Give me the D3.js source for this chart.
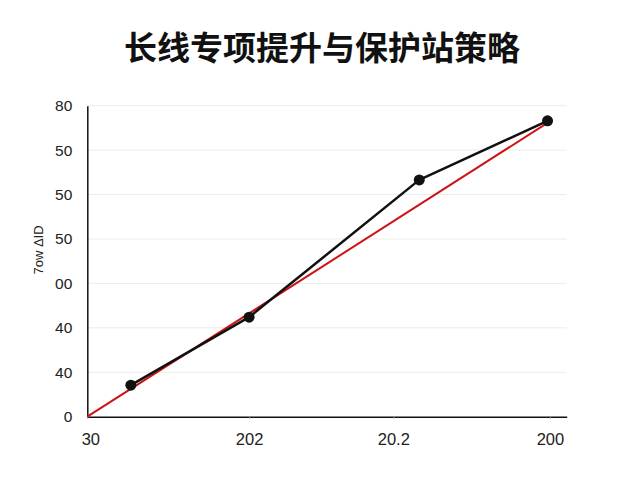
<!DOCTYPE html>
<html>
<head>
<meta charset="utf-8">
<script src="https://cdn.jsdelivr.net/npm/d3@7"></script>
<style>
  body { margin: 0; background: #fff; }
  svg { display: block; }
</style>
</head>
<body>
<script>
// Values
var xValues = [1.09, 4.05, 8.31, 11.52];
var yValues = [7.1, 22.4, 53.3, 66.6];
var trendX = [0, 11.46];
var trendY = [0, 65.8];
var xTicks = [0, 4.05, 7.66, 11.58];
var xTickLabels = ['30', '202', '20.2', '200'];
var yTicks = [0, 10, 20, 30, 40, 50, 60, 70];
var yTickLabels = ['0', '40', '40', '00', '50', '50', '50', '80'];

var width = 640, height = 480;
var margin = { top: 105.7, right: 73.3, bottom: 63.3, left: 87.3 };

var svg = d3.select('body').append('svg')
    .attr('width', width)
    .attr('height', height);

var x = d3.scaleLinear().domain([0, 12])
    .range([margin.left, width - margin.right]);
var y = d3.scaleLinear().domain([0, 70])
    .range([height - margin.bottom, margin.top]);

// Title
svg.append('text')
    .attr('x', 322)
    .attr('y', 60)
    .attr('text-anchor', 'middle')
    .attr('font-family', 'Noto Sans CJK SC')
    .attr('font-weight', 'bold')
    .attr('font-size', 33)
    .attr('fill', '#111')
    .text('长线专项提升与保护站策略');

// Gridlines
svg.append('g')
  .selectAll('line')
  .data(yTicks.slice(1))
  .enter().append('line')
    .attr('x1', x(0))
    .attr('x2', x(12))
    .attr('y1', function(d) { return y(d); })
    .attr('y2', function(d) { return y(d); })
    .attr('stroke', '#ececec')
    .attr('stroke-width', 1);

// Y axis
var yAxis = svg.append('g')
    .attr('transform', 'translate(' + x(0) + ',0)')
    .call(d3.axisLeft(y)
        .tickValues(yTicks)
        .tickSize(0)
        .tickPadding(15)
        .tickFormat(function(d, i) { return yTickLabels[i]; }));
yAxis.select('.domain').attr('stroke', '#111').attr('stroke-width', 1.5);
yAxis.selectAll('text')
    .attr('font-family', 'Liberation Sans')
    .attr('font-size', 15.5)
    .attr('fill', '#222');

// X axis
var xAxis = svg.append('g')
    .attr('transform', 'translate(0,' + y(0) + ')')
    .call(d3.axisBottom(x)
        .tickValues(xTicks)
        .tickSizeInner(2)
        .tickSizeOuter(0)
        .tickPadding(15)
        .tickFormat(function(d, i) { return xTickLabels[i]; }));
xAxis.select('.domain').attr('stroke', '#111').attr('stroke-width', 1.5);
xAxis.selectAll('.tick line').attr('stroke', '#999');
xAxis.selectAll('text')
    .attr('font-family', 'Liberation Sans')
    .attr('font-size', 16.5)
    .attr('fill', '#222');
xAxis.selectAll('.tick text')
    .attr('dx', function(d, i) { return i === 0 ? 3 : 0; });

// Y axis title
svg.append('text')
    .attr('transform', 'translate(43,250) rotate(-90)')
    .attr('text-anchor', 'middle')
    .attr('font-family', 'Liberation Sans')
    .attr('font-size', 13)
    .attr('fill', '#222')
    .text('7ow ΔID');

// Red trend line
svg.append('line')
    .attr('x1', x(trendX[0]))
    .attr('y1', y(trendY[0]))
    .attr('x2', x(trendX[1]))
    .attr('y2', y(trendY[1]))
    .attr('stroke', '#cc1414')
    .attr('stroke-width', 2);

// Black data line
var points = xValues.map(function(v, i) { return { x: v, y: yValues[i] }; });
var line = d3.line()
    .x(function(d) { return x(d.x); })
    .y(function(d) { return y(d.y); });

svg.append('path')
    .datum(points)
    .attr('d', line)
    .attr('fill', 'none')
    .attr('stroke', '#111')
    .attr('stroke-width', 2.5)
    .attr('stroke-linejoin', 'round');

svg.append('g')
  .selectAll('circle')
  .data(points)
  .enter().append('circle')
    .attr('cx', function(d) { return x(d.x); })
    .attr('cy', function(d) { return y(d.y); })
    .attr('r', 5.5)
    .attr('fill', '#111');
</script>
</body>
</html>
